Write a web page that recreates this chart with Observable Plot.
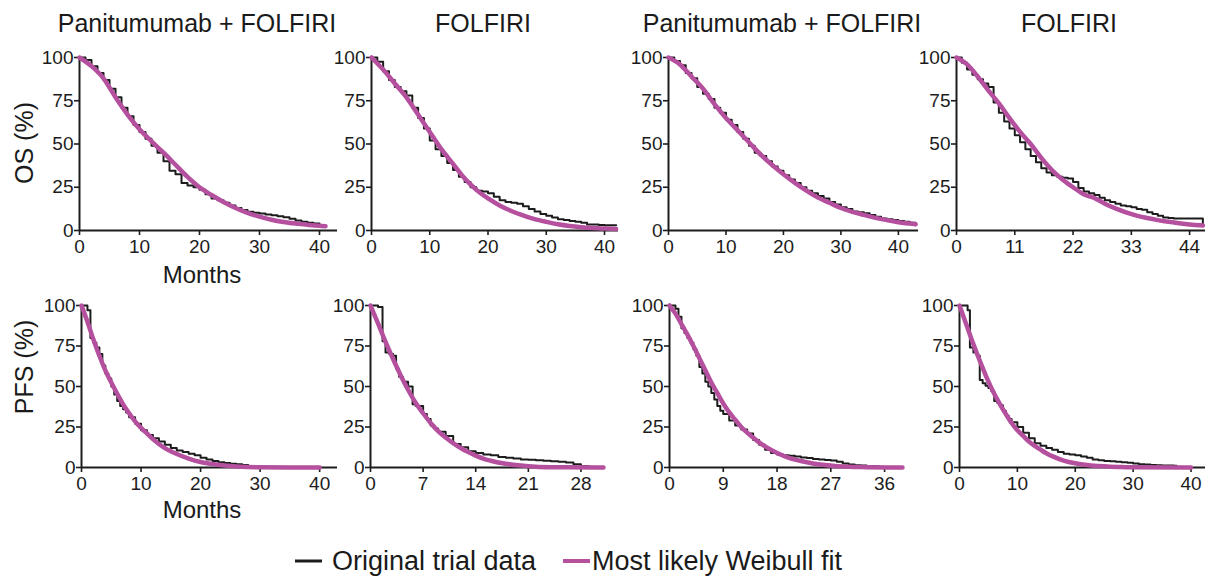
<!DOCTYPE html>
<html>
<head>
<meta charset="utf-8">
<script src="https://cdn.jsdelivr.net/npm/d3@7"></script>
<script src="https://cdn.jsdelivr.net/npm/@observablehq/plot@0.6"></script>
<style>
  body { margin: 0; background: #fff; }
  #fig { position: relative; width: 1213px; height: 580px; overflow: hidden; font-family: "Liberation Sans", Arial, sans-serif; }
  #fig > svg, #fig > div { position: absolute; }
</style>
</head>
<body>
<div id="fig"></div>
<script>
// ---------- text ----------
const colTitles = ["Panitumumab + FOLFIRI", "FOLFIRI", "Panitumumab + FOLFIRI", "FOLFIRI"];
const rowLabels = ["OS (%)", "PFS (%)"];
const xLabel = "Months";
const legendLabels = ["Original trial data", "Most likely Weibull fit"];

// ---------- ticks / domains ----------
const yTicks = [0, 25, 50, 75, 100];
const xTicks1 = [0, 10, 20, 30, 40];
const xTicks2 = [0, 10, 20, 30, 40];
const xTicks3 = [0, 10, 20, 30, 40];
const xTicks4 = [0, 11, 22, 33, 44];
const xTicks5 = [0, 10, 20, 30, 40];
const xTicks6 = [0, 7, 14, 21, 28];
const xTicks7 = [0, 9, 18, 27, 36];
const xTicks8 = [0, 10, 20, 30, 40];
const xMax = [43, 42.4, 43.5, 47, 43, 31, 39, 42.5];

// ---------- panel 1: OS, Panitumumab + FOLFIRI (trial A) ----------
const trial1_t = [0,1,2,3,4,5,6,7,8,9,10,11,12,13,14,15,16,17,18,19,20,21,22,23,24,25,26,27,28,29,30,31,32,33,34,35,36,37,38,39,40];
const trial1_s = [100,98.5,95,91,87,82,77,71,66,61,57,53,49,45,40,34.5,32.5,27.5,26,25,23.5,21,18.5,17.5,16,14.5,13,11.8,10.8,10.3,9.8,9.3,8.8,8.3,7.6,6.8,5.8,5,4.5,4,4];
const fit1_t = [0,2,4,6,8,10,12,14,16,18,20,22,24,26,28,30,32,34,36,38,40,41];
const fit1_s = [100,95,88,77,67,58.5,51.5,45,38,31,25,20.5,16.5,13,10.2,8,6.2,4.9,4,3.3,2.7,2.5];

// ---------- panel 2: OS, FOLFIRI (trial A) ----------
const trial2_t = [0,1,2,3,4,5,6,7,8,9,10,11,12,13,14,15,16,17,18,19,20,21,22,23,24,25,26,27,28,29,30,31,32,33,34,35,36,37,38,39,40,41,42];
const trial2_s = [100,97.5,92,87,83,80.5,78,71,65,59,52,47,43,39,35,31,28,25,23,22.5,21.5,19.5,17.5,16.5,16,15.5,14,12.5,11,9.5,8.5,7.5,6.5,6,5.5,5,4.5,3.5,3.5,3.2,3.1,3.1,3.1];
const fit2_t = [0,2,4,6,8,10,12,14,16,18,20,22,24,26,28,30,32,34,36,38,40,42];
const fit2_s = [100,93,85,77,67,57,47,38.5,30,23.5,18.5,14.5,11.3,8.7,6.6,5,3.6,2.6,1.9,1.4,1.1,0.9];

// ---------- panel 3: OS, Panitumumab + FOLFIRI (trial B) ----------
const trial3_t = [0,1,2,3,4,5,6,7,8,9,10,11,12,13,14,15,16,17,18,19,20,21,22,23,24,25,26,27,28,29,30,31,32,33,34,35,36,37,38,39,40,41,42,43];
const trial3_s = [100,98,95.5,91,88,83,79,76,71,68,64,61,57,53,49,45,43,40,37,34.5,32,29.5,27.5,25,23,21.5,20,18.5,16.5,15,13.5,12.5,11,10.5,10,9,8,7,6.5,6,5.5,5,4.5,3];
const fit3_t = [0,2,4,6,8,10,12,14,16,18,20,22,24,26,28,30,32,34,36,38,40,42,43];
const fit3_s = [100,96,89,82,73,65,58,51,44,38,32.5,27.5,23,19,16,13,10.8,9,7.3,6,4.8,4,3.6];

// ---------- panel 4: OS, FOLFIRI (trial B) ----------
const trial4_t = [0,1,2,3,4,5,6,7,8,9,10,11,12,13,14,15,16,17,18,19,20,21,22,23,24,25,26,27,28,29,30,31,32,33,34,35,36,37,38,39,40,41,42,43,44,45,46,46.5];
const trial4_s = [100,97,93,90,87.5,85,83,74,68,63,59,55,51,47,43,39.5,36,33.5,32,31,30.5,30,28,24.5,22.5,21.5,20.5,19,17.5,16.5,15.5,14.5,14,13.5,12.5,12,10.5,9.5,8.5,7.5,7.2,7,7,7,7,7,7,3];
const fit4_t = [0,2,4,6,8,10,12,14,16,18,20,22,24,26,28,30,32,34,36,38,40,42,44,46,46.5];
const fit4_s = [100,96,89,81,73.5,65,57,50,42,35,29.5,25,21,18.8,15.5,12.8,10.5,8.6,7.2,6,5,4.2,3.5,3,2.9];

// ---------- panel 5: PFS, Panitumumab + FOLFIRI (trial A) ----------
const trial5_t = [0,1,1.5,2,2.5,3,3.5,4,4.5,5,5.5,6,6.5,7,7.5,8,9,10,11,12,13,14,15,16,17,18,19,20,21,22,23,24,25,26,27,28,29,30,40];
const trial5_s = [100,97,80,77,74,70,63,58,55,50,45,41,38,36,34,31,27,23,20,18,16,14,12,10.5,9.5,8.5,7.5,6,5,4,3.2,2.8,2.3,2,1.5,1,0.6,0.3,0.3];
const fit5_t = [0,1,2,3,4,5,6,7,8,9,10,11,12,13,14,15,16,18,20,22,24,26,28,30,35,40];
const fit5_s = [100,90,79,69,60,52.5,45.5,39,33.5,28.5,24.5,21,17.5,14.5,12,10,8.3,5.5,3.4,2.1,1.2,0.6,0.3,0.15,0,0];

// ---------- panel 6: PFS, FOLFIRI (trial A) ----------
const trial6_t = [0,1,1.6,2,2.5,3,3.4,3.8,4.3,5,5.6,6,7,7.5,8,8.5,9,10,11,12,13,14,15,16,17,18,19,20,21,22,23,24,25,26,27,28,29];
const trial6_s = [100,99,78,71,70,69,61,56,53,50,39,38,33,30,26,24,22,19.5,14.5,12.5,10,9,8,7.5,6.5,6,5.5,5,4.8,4.5,4.2,3.8,3.5,3.1,2,1,0.8];
const fit6_t = [0,1,2,3,4,5,6,7,8,9,10,11,12,13,14,15,16,18,20,22,24,26,31];
const fit6_s = [100,89,77.5,67,57,48,40,33.5,27.5,22.5,18.5,15,12,9.5,7.3,5.5,4.2,2.3,1.2,0.5,0.2,0.1,0];

// ---------- panel 7: PFS, Panitumumab + FOLFIRI (trial B) ----------
const trial7_t = [0,1,1.5,2,2.5,3,3.5,4,4.5,5,5.5,6,6.5,7,7.5,8,8.5,9,10,11,12,13,14,15,16,17,18,19,20,21,22,23,24,25,26,27,28,29,30,31,32,33,34,35];
const trial7_s = [100,98,93,86,83,80,77,73,69,62,58,53,50,46,42,38,35,33,29,26,23.5,21,17,14,11,9,8,7.5,7.2,6.8,6.2,5.8,5.3,5,4.6,4.3,3.5,2.5,1.8,1.4,1.2,1,0.7,0.6];
const fit7_t = [0,1,2,3,4,5,6,7,8,9,10,11,12,13,14,15,16,18,20,22,24,26,28,30,33,39];
const fit7_s = [100,95,88.5,82,75,67.5,60,52.5,46,39.5,34,29.5,25,21.5,18.5,15.5,13,9,6,4,2.5,1.5,0.8,0.4,0.2,0];

// ---------- panel 8: PFS, FOLFIRI (trial B) ----------
const trial8_t = [0,1.4,1.8,2.4,3,3.5,4,4.5,5,5.5,6,6.5,7,7.5,8,8.5,9,10,11,12,13,14,15,16,17,18,19,20,21,22,23,24,25,26,27,28,29,30,31,32,33,34,35,36,37,37.5];
const trial8_s = [100,97,74,71,69,54,52,50.5,49,47,41,40,38.5,35,32,30,28,25,21.5,18,15,13.5,12,11,9.5,8.5,8,7.5,6.8,6,5,4.5,4,3.8,3.6,3.3,3,2.4,2,1.8,1.6,1.4,1.3,1.2,1.1,1];
const fit8_t = [0,1,2,3,4,5,6,7,8,9,10,11,12,13,14,15,16,18,20,22,24,26,28,30,40];
const fit8_s = [100,90,80,70.5,61.5,53,45.5,39,33,27.5,23,19.5,16,13.3,11,8.8,7,4.3,2.6,1.5,0.9,0.5,0.3,0.1,0];

// ---------- assemble ----------
const zip = (t, s) => t.map((m, i) => ({ m, s: s[i] }));
const panels = [
  { trial: zip(trial1_t, trial1_s), fit: zip(fit1_t, fit1_s), ticks: xTicks1 },
  { trial: zip(trial2_t, trial2_s), fit: zip(fit2_t, fit2_s), ticks: xTicks2 },
  { trial: zip(trial3_t, trial3_s), fit: zip(fit3_t, fit3_s), ticks: xTicks3 },
  { trial: zip(trial4_t, trial4_s), fit: zip(fit4_t, fit4_s), ticks: xTicks4 },
  { trial: zip(trial5_t, trial5_s), fit: zip(fit5_t, fit5_s), ticks: xTicks5 },
  { trial: zip(trial6_t, trial6_s), fit: zip(fit6_t, fit6_s), ticks: xTicks6 },
  { trial: zip(trial7_t, trial7_s), fit: zip(fit7_t, fit7_s), ticks: xTicks7 },
  { trial: zip(trial8_t, trial8_s), fit: zip(fit8_t, fit8_s), ticks: xTicks8 }
];

// layout (pixel frame of each panel: y-axis x, right end, top(100), bottom(0))
const frames = [
  [79, 337, 57, 230], [371, 618, 57, 230], [668, 918, 57, 230], [956, 1205, 57, 230],
  [81, 337, 305, 467], [370, 603, 305, 467], [669, 902, 305, 467], [959, 1205, 305, 467]
];
const INK = "#1c1c1c";
const MAGENTA = "#b5509f";
const FONT = "'Liberation Sans', Arial, sans-serif";
const fig = document.getElementById("fig");

// overlay text layer
const NS = "http://www.w3.org/2000/svg";
const over = document.createElementNS(NS, "svg");
over.setAttribute("width", 1213); over.setAttribute("height", 580);
over.style.left = "0px"; over.style.top = "0px";
over.setAttribute("font-family", FONT);
fig.appendChild(over);
function txt(x, y, s, size, anchor = "middle", rot = 0) {
  const t = document.createElementNS(NS, "text");
  t.setAttribute("x", x); t.setAttribute("y", y);
  t.setAttribute("font-size", size); t.setAttribute("fill", "#1a1a1a");
  t.setAttribute("text-anchor", anchor);
  if (rot) t.setAttribute("transform", `rotate(${rot},${x},${y})`);
  t.textContent = s; over.appendChild(t); return t;
}
function seg(x1, x2, y, color, w) {
  const l = document.createElementNS(NS, "line");
  l.setAttribute("x1", x1); l.setAttribute("x2", x2); l.setAttribute("y1", y); l.setAttribute("y2", y);
  l.setAttribute("stroke", color); l.setAttribute("stroke-width", w); over.appendChild(l);
}

const titleX = [197, 483, 782, 1069];
colTitles.forEach((s, i) => txt(titleX[i], 32, s, 25));
txt(33, 143, rowLabels[0], 25, "middle", -90);
txt(33, 367, rowLabels[1], 25, "middle", -90);
txt(202, 283, xLabel, 24);
txt(202, 518, xLabel, 24);
// legend
seg(295, 322, 561, INK, 3);
txt(332, 570, legendLabels[0], 27, "start");
seg(563, 590, 561, MAGENTA, 4);
txt(592, 570, legendLabels[1], 27, "start");

// panels
const ML = 50, MR = 8, MT = 10, MB = 34;
panels.forEach((p, i) => {
  const [ax, right, top, bottom] = frames[i];
  const w = right - ax, h = bottom - top;
  const chart = Plot.plot({
    width: ML + w + MR,
    height: MT + h + MB,
    marginLeft: ML, marginRight: MR, marginTop: MT, marginBottom: MB,
    style: { fontFamily: FONT, fontSize: "19px", color: INK, background: "transparent", overflow: "visible" },
    x: { domain: [0, xMax[i]] },
    y: { domain: [0, 100] },
    marks: [
      Plot.axisX({ ticks: p.ticks, tickSize: 5, tickPadding: 4, label: null, tickFormat: d => String(d), stroke: INK, strokeWidth: 1.6, fill: INK }),
      Plot.axisY({ ticks: yTicks, tickSize: 5, tickPadding: 1, label: null, tickFormat: d => String(d), stroke: INK, strokeWidth: 1.6, fill: INK }),
      Plot.ruleY([0], { stroke: INK, strokeWidth: 2 }),
      Plot.ruleX([0], { stroke: INK, strokeWidth: 2 }),
      Plot.line(p.trial, { x: "m", y: "s", curve: "step-after", stroke: INK, strokeWidth: 2 }),
      Plot.line(p.fit, { x: "m", y: "s", curve: "monotone-x", stroke: MAGENTA, strokeWidth: 4.5, strokeLinecap: "round" })
    ]
  });
  chart.style.left = (ax - ML) + "px";
  chart.style.top = (top - MT) + "px";
  chart.style.position = "absolute";
  fig.appendChild(chart);
});
</script>
</body>
</html>
